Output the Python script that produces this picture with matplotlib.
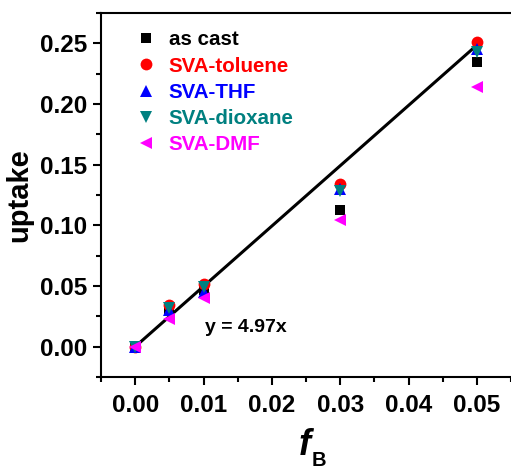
import matplotlib
matplotlib.use("Agg")
import matplotlib.pyplot as plt
import numpy as np
from matplotlib.ticker import MultipleLocator

plt.rcParams['font.family'] = ['Liberation Sans', 'DejaVu Sans']

fB = [0.0, 0.005, 0.01, 0.03, 0.05]
as_cast = [0.0, 0.030, 0.047, 0.113, 0.235]
toluene = [0.0, 0.034, 0.052, 0.134, 0.251]
thf = [0.0, 0.030, 0.045, 0.130, 0.245]
dioxane = [0.0, 0.032, 0.049, 0.128, 0.243]
dmf = [0.0, 0.023, 0.040, 0.104, 0.214]
slope = 4.97
fit_x = [0.0, 0.05]

series = [
    ("as cast", as_cast, 's', 'black', 7.5),
    ("SVA-toluene", toluene, 'o', 'red', 8.5),
    ("SVA-THF", thf, '^', 'blue', 8.5),
    ("SVA-dioxane", dioxane, 'v', '#008080', 8.5),
    ("SVA-DMF", dmf, '<', '#FF00FF', 8.5),
]

fig = plt.figure(figsize=(5.11, 4.71), dpi=100)
ax = fig.add_axes([101/511, 1-377/471, 1-101/511, (377-13)/471])

ax.plot(fit_x, [slope*v for v in fit_x], color='black', lw=2.2, zorder=1)
for lab, ys, m, c, ms in series:
    ax.plot(fB, ys, linestyle='none', marker=m, color=c, markersize=ms,
            markeredgewidth=0, label=lab, zorder=2)

ax.set_xlim(-0.005, 0.055)
ax.set_ylim(-0.025, 0.275)
ax.xaxis.set_minor_locator(MultipleLocator(0.005))
ax.yaxis.set_minor_locator(MultipleLocator(0.025))
ax.set_xticks(np.arange(0, 0.051, 0.01))
ax.set_yticks(np.arange(0, 0.251, 0.05))
ax.xaxis.set_major_formatter(matplotlib.ticker.FormatStrFormatter('%.2f'))
ax.yaxis.set_major_formatter(matplotlib.ticker.FormatStrFormatter('%.2f'))
ax.tick_params(which='major', direction='out', length=6, width=1.5, labelsize=17.5)
ax.tick_params(axis='y', which='major', pad=4)
ax.tick_params(axis='x', which='major', pad=6)
ax.tick_params(which='minor', direction='out', length=3.5, width=1.5)
for lbl in ax.get_xticklabels() + ax.get_yticklabels():
    lbl.set_fontweight('bold')
for s in ['left', 'bottom', 'top']:
    ax.spines[s].set_linewidth(1.5)
ax.spines['right'].set_visible(False)

ax.set_ylabel('uptake', fontsize=21, fontweight='bold', labelpad=5)

fig.text(305/511, 1-455/471, 'f', fontsize=26, fontweight='bold', style='italic',
         ha='center', va='baseline')
fig.text(312/511, 1-466/471, 'B', fontsize=14.5, fontweight='bold', ha='left', va='baseline')

ax.text(0.0102, 0.0157, 'y = 4.97x', fontsize=14, fontweight='bold', va='center', ha='left')

leg = ax.legend(loc='upper left', bbox_to_anchor=(0.055, 0.986), frameon=False,
                prop={'weight': 'bold', 'size': 14.8}, handlelength=1.0,
                handletextpad=0.6, labelspacing=0.35, borderaxespad=0.2)
for t, (lab, ys, m, c, ms) in zip(leg.get_texts(), series):
    t.set_color(c)

fig.savefig('out.png', dpi=100)
